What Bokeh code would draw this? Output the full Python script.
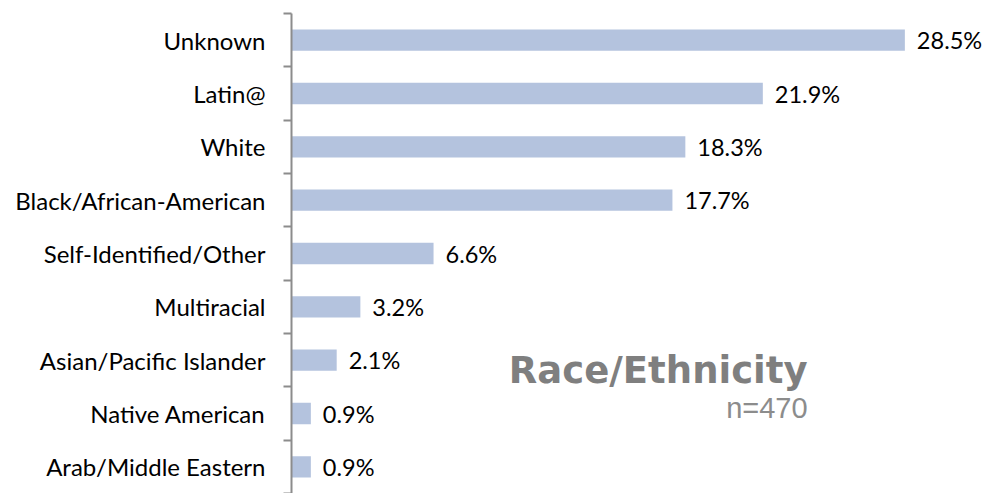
from bokeh.plotting import figure
from bokeh.models import Range1d, FixedTicker, Label, ColumnDataSource
from bokeh.core.properties import value
from bokeh.embed import file_html
from bokeh.resources import INLINE

categories = ["Unknown", "Latin@", "White", "Black/African-American",
              "Self-Identified/Other", "Multiracial", "Asian/Pacific Islander",
              "Native American", "Arab/Middle Eastern"]
values = [28.5, 21.9, 18.3, 17.7, 6.6, 3.2, 2.1, 0.9, 0.9]
title_text = "Race/Ethnicity"
subtitle_text = "n=470"

n = len(categories)
centers = [n - i - 0.5 for i in range(n)]
boundaries = list(range(n + 1))
value_labels = [f"{v:.1f}%" for v in values]

src = ColumnDataSource(dict(y=centers, v=values, lab=value_labels))

p = figure(width=984, height=493, output_backend="svg", toolbar_location=None,
           x_range=Range1d(0, 32.2), y_range=Range1d(0, n),
           x_axis_location=None, min_border_left=291, min_border_right=0,
           min_border_top=13, min_border_bottom=0)
p.outline_line_color = None
p.xgrid.visible = False
p.ygrid.visible = False

ax = p.yaxis[0]
ax.ticker = FixedTicker(ticks=centers, minor_ticks=boundaries)
ax.major_label_overrides = {c: cat for c, cat in zip(centers, categories)}
ax.major_tick_out = 0
ax.major_tick_in = 0
ax.minor_tick_out = 8
ax.minor_tick_in = 0
ax.minor_tick_line_color = "#8c8c8c"
ax.minor_tick_line_width = 2
ax.axis_line_color = "#8c8c8c"
ax.axis_line_width = 2
ax.major_label_standoff = 18
ax.major_label_text_font = "Lato"
ax.major_label_text_font_size = "24px"
ax.major_label_text_color = "#000000"

p.hbar(y="y", right="v", left=0, height=0.4, source=src,
       fill_color="#b4c3de", line_color=None)
p.text(x="v", y="y", text="lab", source=src, x_offset=12,
       text_baseline="middle", text_align="left",
       text_font=value("Lato"), text_font_size="23.5px", text_color="#000000")

p.add_layout(Label(x=23.98, y=2.31, text=title_text, text_align="right",
                   text_baseline="alphabetic", text_font="DejaVu Sans",
                   text_font_style="bold", text_font_size="37px",
                   text_color="#7f7f7f"))
p.add_layout(Label(x=23.98, y=1.60, text=subtitle_text, text_align="right",
                   text_baseline="alphabetic", text_font="Liberation Sans",
                   text_font_size="29px", text_color="#8c8c8c"))

open("out.html", "w").write(file_html(p, INLINE))
